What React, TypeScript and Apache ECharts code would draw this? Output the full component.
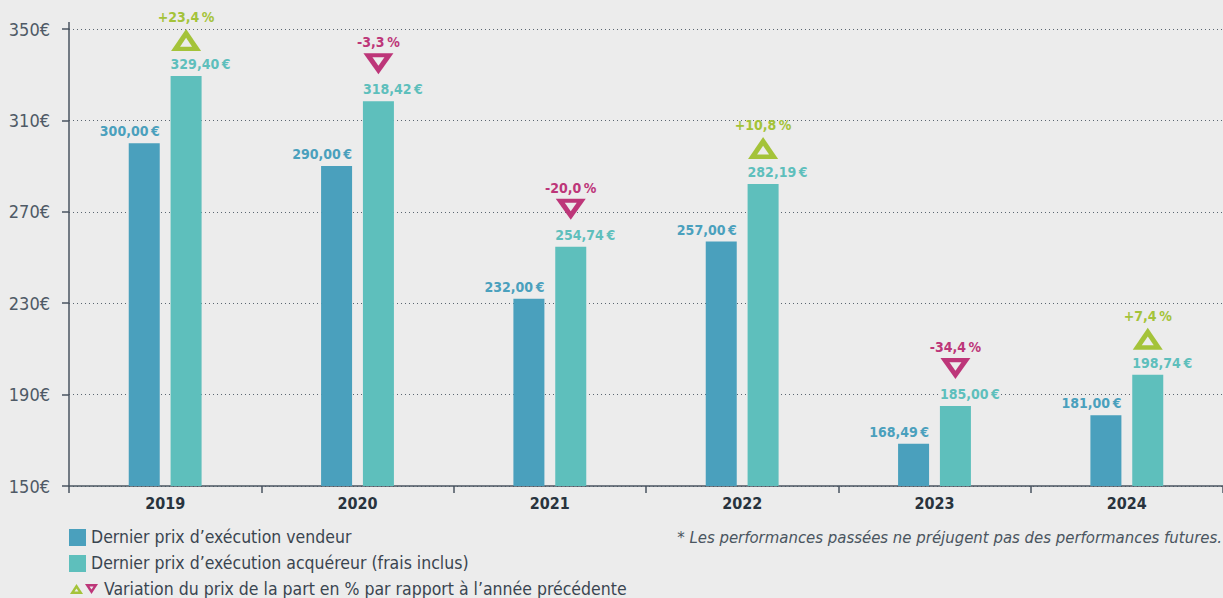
import React, { useEffect, useRef } from 'react';
import * as echarts from 'echarts';

const years = ['2019', '2020', '2021', '2022', '2023', '2024'];
const vendeur = [300.0, 290.0, 232.0, 257.0, 168.49, 181.0];
const acquereur = [329.4, 318.42, 254.74, 282.19, 185.0, 198.74];
const variation = [23.4, -3.3, -20.0, 10.8, -34.4, 7.4];
const yMin = 150;
const yMax = 350;
const yInterval = 40;
const legendLabels = [
  'Dernier prix d\u2019exécution vendeur',
  'Dernier prix d\u2019exécution acquéreur (frais inclus)',
  'Variation du prix de la part en % par rapport à l\u2019année précédente',
];
const footnote = '* Les performances passées ne préjugent pas des performances futures.';

const BG = '#ececec';
const C_VEND = '#4aa0bd';
const C_ACQ = '#5ebfbc';
const C_UP = '#a4c339';
const C_DOWN = '#bd3679';
const C_AXIS = '#4a5560';
const FONT = "'DejaVu Sans Condensed', sans-serif";
const BAR_W = 31;
const BAR_GAP = 0.35;
const ACQ_OFFSET = (BAR_W * (2 + BAR_GAP)) / 2 - BAR_W / 2;

const fmtEuro = (v: number) => v.toFixed(2).replace('.', ',') + '\u2009€';
const fmtPct = (v: number) => (v > 0 ? '+' : '') + v.toFixed(1).replace('.', ',') + '\u2009%';

export default function App() {
  const ref = useRef<HTMLDivElement>(null);
  useEffect(() => {
    document.body.style.margin = '0';
    document.body.style.background = BG;
    const chart = echarts.init(ref.current!, undefined, { renderer: 'svg' });
    const barLabel = (align: string, off: number, color: string) => ({
      show: true,
      position: 'top',
      align,
      offset: [off, 0],
      distance: 5,
      formatter: (p: any) => fmtEuro(p.value),
      color,
      fontFamily: FONT,
      fontSize: 14,
      fontWeight: 'bold',
      backgroundColor: BG,
      padding: [0, 1],
    });
    const option: any = {
      animation: false,
      backgroundColor: BG,
      grid: { left: 69, top: 29, bottom: 112, right: -4, containLabel: false },
      xAxis: {
        type: 'category',
        data: years,
        axisLine: { lineStyle: { color: C_AXIS, width: 1.5 } },
        axisTick: { show: true, length: 7, lineStyle: { color: C_AXIS, width: 1.5 } },
        axisLabel: { fontFamily: FONT, fontSize: 16, fontWeight: 'bold', color: '#28333d', margin: 9 },
      },
      yAxis: {
        type: 'value',
        min: yMin,
        max: yMax,
        interval: yInterval,
        axisLine: { show: true, lineStyle: { color: C_AXIS, width: 1.5 } },
        axisTick: { show: true, length: 7, lineStyle: { color: C_AXIS, width: 1.5 } },
        axisLabel: { fontFamily: FONT, fontSize: 18, color: '#4f5a66', margin: 19, formatter: (v: number) => v + '€' },
        splitLine: { show: true, lineStyle: { color: '#5a6570', width: 1, type: [1, 3] } },
      },
      series: [
        {
          type: 'bar',
          name: legendLabels[0],
          data: vendeur,
          barWidth: BAR_W,
          barGap: BAR_GAP * 100 + '%',
          itemStyle: { color: C_VEND },
          label: barLabel('right', BAR_W / 2 + 1, C_VEND),
        },
        {
          type: 'bar',
          name: legendLabels[1],
          data: acquereur,
          barWidth: BAR_W,
          barGap: BAR_GAP * 100 + '%',
          itemStyle: { color: C_ACQ },
          label: barLabel('left', -BAR_W / 2 - 1, C_ACQ),
        },
        {
          type: 'custom',
          coordinateSystem: 'cartesian2d',
          clip: false,
          silent: true,
          z: 10,
          encode: { x: 0, y: 1 },
          data: years.map((_, i) => [i, acquereur[i], variation[i]]),
          renderItem: (_params: any, api: any) => {
            const p = api.coord([api.value(0), api.value(1)]);
            const pct = api.value(2) as number;
            const x = p[0] + ACQ_OFFSET;
            const y = p[1];
            const up = pct > 0;
            const col = up ? C_UP : C_DOWN;
            const hw = 15;
            let outer: number[][];
            if (up) {
              outer = [[x, y - 47], [x + hw, y - 25], [x - hw, y - 25]];
            } else {
              outer = [[x - hw, y - 48], [x + hw, y - 48], [x, y - 27]];
            }
            const cy = (outer[0][1] + outer[1][1] + outer[2][1]) / 3;
            const inner = outer.map(([px, py]) => [x + (px - x) * 0.4, cy + (py - cy) * 0.4]);
            return {
              type: 'group',
              children: [
                { type: 'polygon', shape: { points: outer }, style: { fill: col } },
                { type: 'polygon', shape: { points: inner }, style: { fill: BG } },
                {
                  type: 'text',
                  x,
                  y: y - 59,
                  style: {
                    text: fmtPct(pct),
                    fill: col,
                    font: `bold 14px ${FONT}`,
                    align: 'center',
                    verticalAlign: 'middle',
                  },
                },
              ],
            };
          },
        },
      ],
      graphic: [
        { type: 'line', shape: { x1: 69, y1: 22, x2: 69, y2: 30 }, style: { stroke: C_AXIS, lineWidth: 1.5 } },
        { type: 'rect', shape: { x: 69, y: 529, width: 17, height: 17 }, style: { fill: C_VEND } },
        { type: 'rect', shape: { x: 69, y: 555, width: 17, height: 17 }, style: { fill: C_ACQ } },
        { type: 'polygon', shape: { points: [[76.5, 584], [83, 594], [70, 594]] }, style: { fill: C_UP } },
        { type: 'polygon', shape: { points: [[74.5, 591.5], [78.5, 591.5], [76.5, 588.5]] }, style: { fill: BG } },
        { type: 'polygon', shape: { points: [[85, 584], [98, 584], [91.5, 594]] }, style: { fill: C_DOWN } },
        { type: 'polygon', shape: { points: [[89.5, 586.5], [93.5, 586.5], [91.5, 589.5]] }, style: { fill: BG } },
        { type: 'text', x: 91, y: 537, style: { text: legendLabels[0], fill: '#3a4550', font: `17.5px ${FONT}`, verticalAlign: 'middle' } },
        { type: 'text', x: 91, y: 563, style: { text: legendLabels[1], fill: '#3a4550', font: `17.5px ${FONT}`, verticalAlign: 'middle' } },
        { type: 'text', x: 104, y: 589, style: { text: legendLabels[2], fill: '#3a4550', font: `17.5px ${FONT}`, verticalAlign: 'middle' } },
        { type: 'text', x: 1222, y: 537, style: { text: footnote, fill: '#4a5560', font: `italic 16.6px ${FONT}`, align: 'right', verticalAlign: 'middle' } },
      ],
    };
    chart.setOption(option);
    return () => chart.dispose();
  }, []);
  return <div ref={ref} style={{ width: 1223, height: 598 }} />;
}
